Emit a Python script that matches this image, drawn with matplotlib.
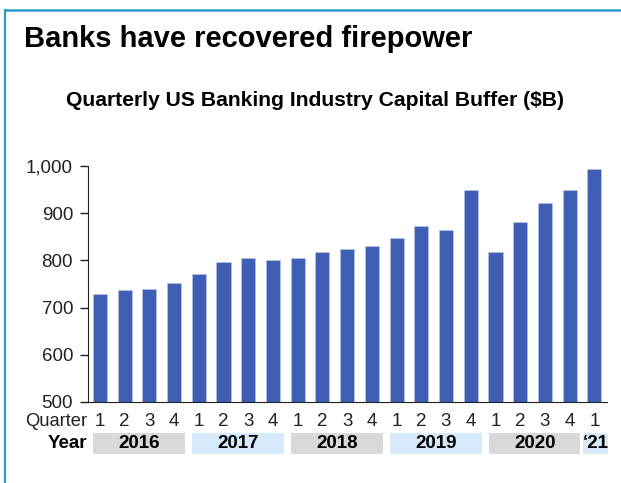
import matplotlib
matplotlib.use("Agg")
import matplotlib.pyplot as plt
from matplotlib.patches import Rectangle
from matplotlib.lines import Line2D
from matplotlib.transforms import blended_transform_factory

plt.rcParams['font.family'] = ['Liberation Sans', 'DejaVu Sans']

# capital buffer per quarter, $B, 2016 Q1 .. 2021 Q1
buffer_vals = [728, 737, 740, 752, 772, 796, 806, 801, 806, 818,
               825, 831, 848, 872, 865, 950, 818, 882, 921, 950, 994]
quarters = ['1', '2', '3', '4'] * 5 + ['1']
years = ['2016', '2017', '2018', '2019', '2020', '\u201821']
year_start = [0, 4, 8, 12, 16, 20]
year_len = [4, 4, 4, 4, 4, 1]
year_fill = ['#d9d9d9', '#d6eafb', '#d9d9d9', '#d6eafb', '#d9d9d9', '#d6eafb']
yticks = [500, 600, 700, 800, 900, 1000]

W, H = 621, 483
fig = plt.figure(figsize=(W / 100, H / 100), dpi=100)

# frame lines along the top and left edge
fig.add_artist(Line2D([4.5 / W, 1], [1 - 9.5 / H, 1 - 9.5 / H], color='#2e9cc2',
                      lw=1.8, transform=fig.transFigure))
fig.add_artist(Line2D([4.5 / W, 4.5 / W], [0, 1 - 9.5 / H], color='#2e9cc2',
                      lw=1.6, transform=fig.transFigure))

fig.text(24 / W, 1 - 39 / H, 'Banks have recovered firepower', fontsize=21,
         fontweight='bold', ha='left', va='center')
fig.text(315 / W, 1 - 101 / H, 'Quarterly US Banking Industry Capital Buffer ($B)',
         fontsize=15.2, fontweight='bold', ha='center', va='center')

ax = fig.add_axes([88.3 / W, 1 - 402 / H, (606.7 - 88.3) / W, (402 - 166) / H])
x = list(range(len(buffer_vals)))
ax.bar(x, buffer_vals, width=0.57, color='#3f5fb4', edgecolor='#b3c1e6', linewidth=0.6)
ax.set_xlim(-0.47, 20.5)
ax.set_ylim(500, 1000)
ax.set_yticks(yticks)
ax.set_yticklabels(['{:,}'.format(v) for v in yticks])
ax.tick_params(axis='y', direction='out', length=6, width=1, pad=5,
               labelsize=13.5, colors='#222222')
ax.set_xticks([])
for s in ['top', 'right']:
    ax.spines[s].set_visible(False)
ax.spines['left'].set_color('#222222')
ax.spines['bottom'].set_color('#222222')

tr = blended_transform_factory(ax.transData, fig.transFigure)
qy = 1 - 421.7 / H
for xi, q in zip(x, quarters):
    ax.text(xi, qy, q, transform=tr, ha='center', va='center', fontsize=13.5,
            color='#222222', clip_on=False)
fig.text(87 / W, qy, 'Quarter', ha='right', va='center', fontsize=13.2, color='#222222')

by0, by1 = 1 - 454 / H, 1 - 433.3 / H
for start, n, label, c in zip(year_start, year_len, years, year_fill):
    if n > 1:
        x0, x1 = start - 0.26, start + n - 1 + 0.44
    else:
        x0, x1 = start - 0.47, start + 0.57
    ax.add_patch(Rectangle((x0, by0), x1 - x0, by1 - by0, transform=tr,
                           facecolor=c, edgecolor='none', clip_on=False))
    ax.text((x0 + x1) / 2, (by0 + by1) / 2, label, transform=tr, ha='center',
            va='center', fontsize=13.5, fontweight='bold', clip_on=False)
fig.text(87 / W, (by0 + by1) / 2, 'Year', ha='right', va='center', fontsize=13.5,
         fontweight='bold')

fig.savefig('out.png', dpi=100)
